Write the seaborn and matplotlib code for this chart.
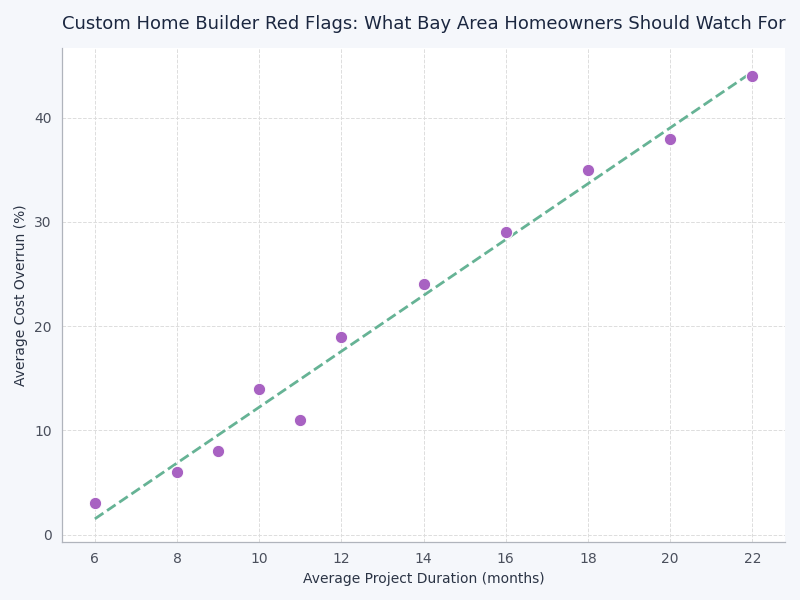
import numpy as np
import pandas as pd
import matplotlib
matplotlib.use("Agg")
import matplotlib.pyplot as plt
import seaborn as sns

durationMonths = [6, 8, 9, 10, 11, 12, 14, 16, 18, 20, 22]
costOverrunPct = [3, 6, 8, 14, 11, 19, 24, 29, 35, 38, 44]

df = pd.DataFrame({
    'Average Project Duration (months)': durationMonths,
    'Average Cost Overrun (%)': costOverrunPct,
})

sns.set_style("whitegrid")
plt.rcParams['font.family'] = ['DejaVu Sans']

fig = plt.figure(figsize=(8, 6), dpi=100, facecolor='#f5f7fb')
ax = fig.add_axes([0.0775, 0.097, 0.904, 0.823])
ax.set_facecolor('white')

sns.regplot(
    data=df,
    x='Average Project Duration (months)',
    y='Average Cost Overrun (%)',
    ci=None,
    scatter=False,
    truncate=True,
    line_kws={'color': '#66b395', 'linestyle': '--', 'linewidth': 2},
    ax=ax,
)
sns.scatterplot(
    data=df,
    x='Average Project Duration (months)',
    y='Average Cost Overrun (%)',
    color='#a862c2',
    s=80,
    edgecolor='white',
    linewidth=0.8,
    zorder=3,
    ax=ax,
)

ax.set_xticks([6, 8, 10, 12, 14, 16, 18, 20, 22])
ax.set_yticks([0, 10, 20, 30, 40])
ax.set_xlim(5.2, 22.8)
ax.set_ylim(-0.7, 46.7)
ax.grid(True, linestyle='--', color='#dddddd', linewidth=0.7)
ax.tick_params(colors='#4a4f5c', labelsize=10, length=4, width=0.8)
ax.tick_params(axis='both', color='#9a9fa8')
for side in ['top', 'right']:
    ax.spines[side].set_visible(False)
for side in ['left', 'bottom']:
    ax.spines[side].set_color('#b0b4bc')
    ax.spines[side].set_linewidth(0.9)

ax.set_xlabel('Average Project Duration (months)', fontsize=10, color='#2b3445')
ax.set_ylabel('Average Cost Overrun (%)', fontsize=10, color='#2b3445')
ax.set_title('Custom Home Builder Red Flags: What Bay Area Homeowners Should Watch For',
             fontsize=13, color='#1b2740', pad=14, loc='center')

fig.savefig('out.png', dpi=100, facecolor=fig.get_facecolor())
